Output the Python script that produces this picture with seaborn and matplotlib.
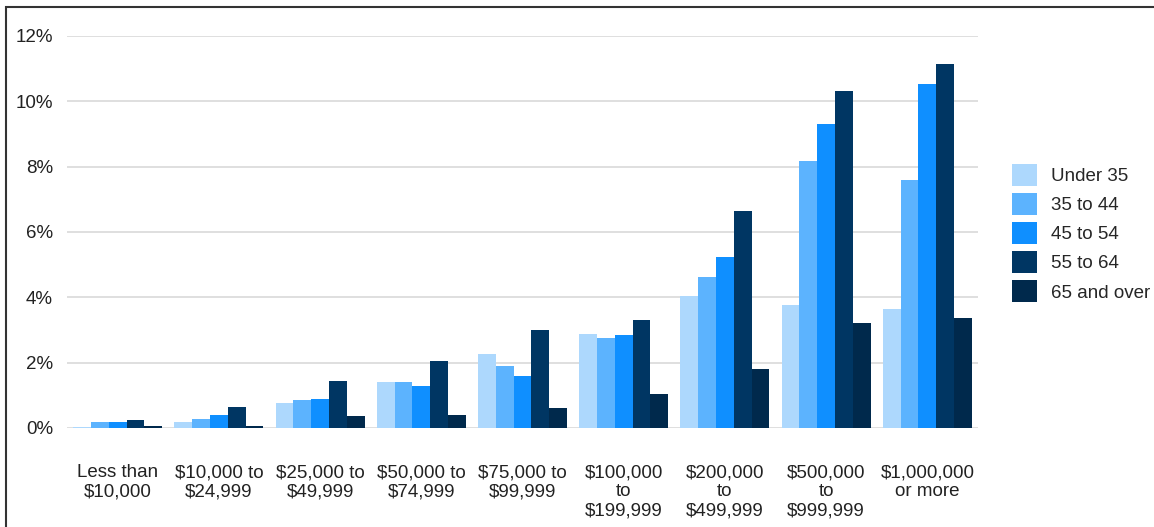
import numpy as np
import pandas as pd
import matplotlib
matplotlib.use("Agg")
import matplotlib.pyplot as plt
from matplotlib.patches import Rectangle
import seaborn as sns

categories = ["Less than\n$10,000", "$10,000 to\n$24,999", "$25,000 to\n$49,999",
              "$50,000 to\n$74,999", "$75,000 to\n$99,999", "$100,000\nto\n$199,999",
              "$200,000\nto\n$499,999", "$500,000\nto\n$999,999", "$1,000,000\nor more"]
age_groups = ["Under 35", "35 to 44", "45 to 54", "55 to 64", "65 and over"]

under_35 = [0.02, 0.17, 0.76, 1.42, 2.27, 2.88, 4.05, 3.76, 3.65]
age_35_44 = [0.19, 0.29, 0.86, 1.42, 1.91, 2.76, 4.63, 8.17, 7.60]
age_45_54 = [0.19, 0.41, 0.88, 1.28, 1.59, 2.84, 5.24, 9.32, 10.54]
age_55_64 = [0.24, 0.64, 1.45, 2.04, 2.99, 3.30, 6.64, 10.33, 11.15]
age_65_up = [0.07, 0.07, 0.36, 0.40, 0.60, 1.04, 1.80, 3.20, 3.37]

yticks = [0, 2, 4, 6, 8, 10, 12]
colors = ["#add8fd", "#5cb3fe", "#0f8fff", "#003663", "#00294c"]

series = [under_35, age_35_44, age_45_54, age_55_64, age_65_up]
rows = []
for grp, vals in zip(age_groups, series):
    for cat, v in zip(categories, vals):
        rows.append({"category": cat, "age": grp, "share": v})
df = pd.DataFrame(rows)

sns.set_style("white")
plt.rcParams["font.family"] = ["Liberation Sans", "DejaVu Sans"]
fs = 13.5

fig = plt.figure(figsize=(11.54, 5.27), dpi=100)
ax = fig.add_axes([67 / 1154, 1 - 428 / 527, (978 - 67) / 1154, (428 - 36) / 527])

sns.barplot(data=df, x="category", y="share", hue="age", order=categories,
            hue_order=age_groups, palette=colors, width=0.88, saturation=1,
            linewidth=0, ax=ax, zorder=3)

ax.set_ylim(0, 12)
ax.set_xlim(-0.5, len(categories) - 0.5)
ax.set_yticks(yticks)
ax.set_yticklabels([f"{t}%" for t in yticks])
ax.yaxis.grid(True, color="#dcdcdc", linewidth=1.3, zorder=0)
ax.set_axisbelow(True)
for s in ax.spines.values():
    s.set_visible(False)
ax.tick_params(axis="both", length=0, labelsize=fs, colors="#222222")
ax.tick_params(axis="x", pad=26)
ax.tick_params(axis="y", pad=10)
for lbl in ax.get_xticklabels():
    lbl.set_linespacing(1.15)
ax.set_xlabel("")
ax.set_ylabel("")

handles, labels = ax.get_legend_handles_labels()
ax.legend_.remove()
fig.legend(handles, labels, loc="center left", bbox_to_anchor=(1012 / 1154, 1 - 233 / 527),
           frameon=False, fontsize=fs, handlelength=1.35, handleheight=1.4,
           handletextpad=0.75, labelspacing=0.4, borderpad=0, borderaxespad=0)

fig.add_artist(Rectangle((6 / 1154, -0.1), 1.2, 1 - 7 / 527 + 0.1, transform=fig.transFigure,
                         fill=False, edgecolor="#333333", linewidth=1.5))

fig.savefig("out.png", dpi=100)
